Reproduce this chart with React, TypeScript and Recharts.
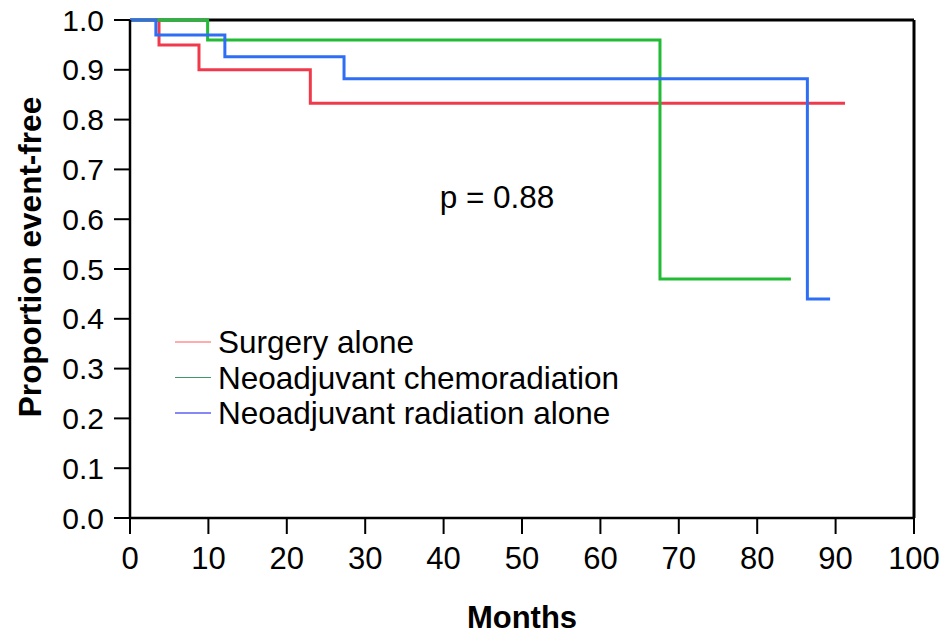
import React from "react";
import { LineChart, Line, XAxis, YAxis, ReferenceLine } from "recharts";

// survival steps (months, proportion event-free)
const surgeryMonths = [0, 3.7, 8.8, 23.0, 91.2];
const surgerySurv = [1, 0.95, 0.9, 0.833, 0.833];

const chemoMonths = [0, 9.9, 67.6, 84.3];
const chemoSurv = [1, 0.96, 0.48, 0.48];

const radiationMonths = [0, 3.3, 12.1, 27.3, 86.4, 89.3];
const radiationSurv = [1, 0.97, 0.926, 0.882, 0.44, 0.44];

const xTicks = [0, 10, 20, 30, 40, 50, 60, 70, 80, 90, 100];
const yTicks = [0, 0.1, 0.2, 0.3, 0.4, 0.5, 0.6, 0.7, 0.8, 0.9, 1.0];

const FONT = '"Liberation Sans", Arial, sans-serif';

const toPoints = (t: number[], s: number[]) =>
  t.map((m, i) => ({ month: m, surv: s[i] }));

const series = [
  {
    name: "Surgery alone",
    data: toPoints(surgeryMonths, surgerySurv),
    color: "#f03a4c",
    legendColor: "#ff5a5a",
  },
  {
    name: "Neoadjuvant chemoradiation",
    data: toPoints(chemoMonths, chemoSurv),
    color: "#22bb36",
    legendColor: "#3a9a6a",
  },
  {
    name: "Neoadjuvant radiation alone",
    data: toPoints(radiationMonths, radiationSurv),
    color: "#2e6ef5",
    legendColor: "#1010f0",
  },
];

// legend drawn straight into the svg so it doesn't eat plot space
function KmLegend() {
  const left = 175;
  const top = 342;
  const rowH = 35.5;
  return (
    <g fontFamily={FONT} fontSize={31.5} fill="#000">
      {series.map((s, i) => (
        <g key={s.name}>
          <line
            x1={left}
            x2={left + 36}
            y1={top + i * rowH}
            y2={top + i * rowH}
            stroke={s.legendColor}
            strokeWidth={1.2}
          />
          <text x={left + 43} y={top + i * rowH + 11}>
            {s.name}
          </text>
        </g>
      ))}
    </g>
  );
}

export default function App() {
  return (
    <div style={{ position: "absolute", left: 0, top: 0, width: 940, height: 628, background: "#fff" }}>
      <LineChart
        width={940}
        height={628}
        margin={{ top: 20, right: 26, bottom: 0, left: 0 }}
        style={{ fontFamily: FONT }}
      >
        <XAxis
          type="number"
          dataKey="month"
          domain={[0, 100]}
          ticks={xTicks}
          allowDuplicatedCategory={false}
          height={110}
          tickSize={16}
          tickMargin={13}
          axisLine={{ stroke: "#000", strokeWidth: 2.5 }}
          tickLine={{ stroke: "#000", strokeWidth: 2 }}
          tick={{ fill: "#000", fontSize: 31, fontFamily: FONT }}
        />
        <YAxis
          type="number"
          dataKey="surv"
          domain={[0, 1]}
          ticks={yTicks}
          width={130}
          tickSize={16}
          tickMargin={10}
          tickFormatter={(v: number) => v.toFixed(1)}
          axisLine={{ stroke: "#000", strokeWidth: 2.5 }}
          tickLine={{ stroke: "#000", strokeWidth: 2 }}
          tick={{ fill: "#000", fontSize: 30, fontFamily: FONT }}
        />
        <ReferenceLine y={1} stroke="#000" strokeWidth={3} />
        <ReferenceLine x={100} stroke="#000" strokeWidth={3} />
        {series.map((s) => (
          <Line
            key={s.name}
            name={s.name}
            data={s.data}
            dataKey="surv"
            type="stepAfter"
            stroke={s.color}
            strokeWidth={3}
            dot={false}
            activeDot={false}
            isAnimationActive={false}
          />
        ))}
        <KmLegend />
        <text x={497} y={208} textAnchor="middle" fontSize={31.5} fontFamily={FONT} fill="#000">
          p = 0.88
        </text>
        <text
          x={41}
          y={257}
          transform="rotate(-90 41 257)"
          textAnchor="middle"
          fontSize={31.5}
          fontWeight="bold"
          fontFamily={FONT}
          fill="#000"
        >
          Proportion event-free
        </text>
        <text x={522} y={628} textAnchor="middle" fontSize={31} fontWeight="bold" fontFamily={FONT} fill="#000">
          Months
        </text>
      </LineChart>
    </div>
  );
}
